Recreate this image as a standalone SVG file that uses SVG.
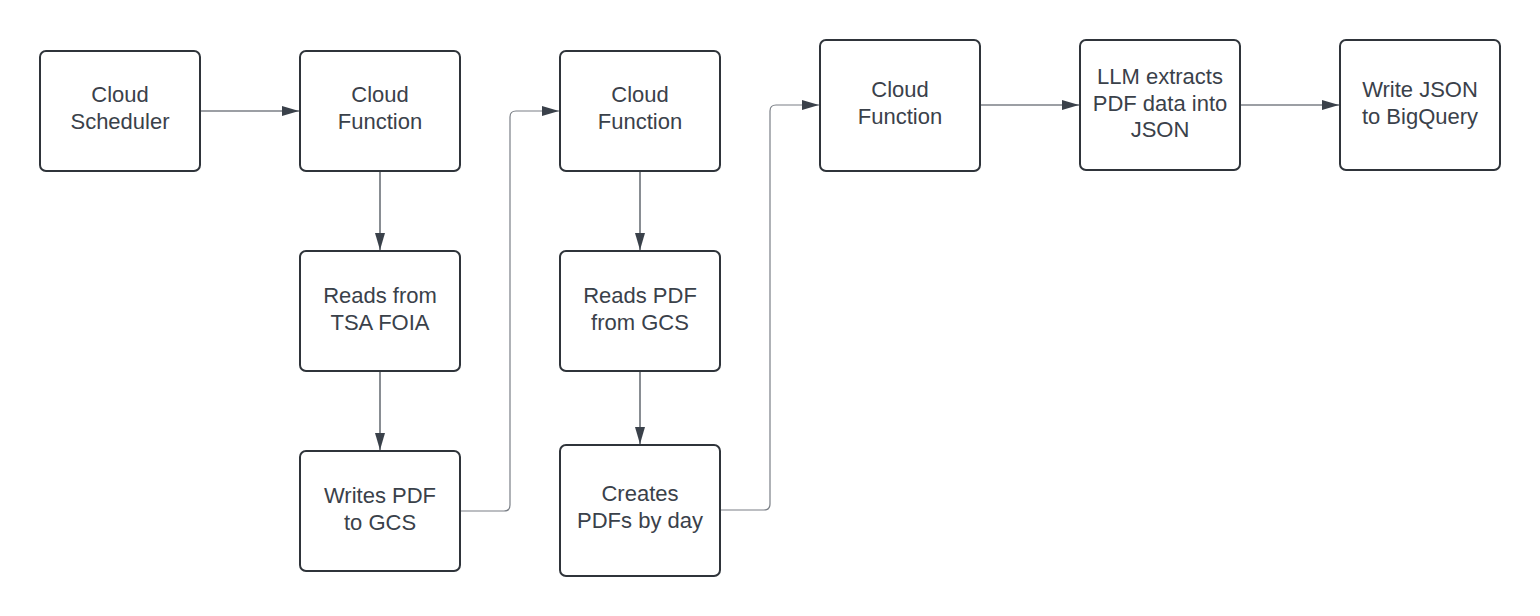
<svg xmlns="http://www.w3.org/2000/svg" width="1540" height="616" viewBox="0 0 1540 616">
<style>
.box{fill:#ffffff;stroke:#2f343a;stroke-width:2}
.t{font-family:"Liberation Sans",Arial,sans-serif;font-size:22px;fill:#3a414a;text-anchor:middle}
.c{fill:none;stroke:#3a414a;stroke-width:1.2}
.e{fill:none;stroke:#7a7f86;stroke-width:1.2}
</style>
<defs>
<marker id="ah" markerWidth="17" markerHeight="10" refX="17" refY="5" orient="auto" markerUnits="userSpaceOnUse">
<path d="M0,0 L17,5 L0,10 Z" fill="#3a414a"/>
</marker>
</defs>
<rect width="1540" height="616" fill="#ffffff"/>
<g id="connectors">
<path class="c" d="M200,111 H299" marker-end="url(#ah)"/>
<path class="c" d="M380,171 V250" marker-end="url(#ah)"/>
<path class="c" d="M380,371 V450" marker-end="url(#ah)"/>
<path class="e" d="M460,511 H504 Q510,511 510,505 V117 Q510,111 516,111 H559" marker-end="url(#ah)"/>
<path class="c" d="M640,171 V250" marker-end="url(#ah)"/>
<path class="c" d="M640,371 V444" marker-end="url(#ah)"/>
<path class="e" d="M720,510 H764 Q770,510 770,504 V111 Q770,105 776,105 H819" marker-end="url(#ah)"/>
<path class="c" d="M980,105 H1079" marker-end="url(#ah)"/>
<path class="c" d="M1240,105 H1339" marker-end="url(#ah)"/>
</g>
<g id="n1"><rect class="box" x="40" y="51" width="160" height="120" rx="6"/><text class="t" x="120" y="102">Cloud</text><text class="t" x="120" y="128.5">Scheduler</text></g>
<g id="n2"><rect class="box" x="300" y="51" width="160" height="120" rx="6"/><text class="t" x="380" y="102">Cloud</text><text class="t" x="380" y="128.5">Function</text></g>
<g id="n3"><rect class="box" x="300" y="251" width="160" height="120" rx="6"/><text class="t" x="380" y="303">Reads from</text><text class="t" x="380" y="329.5">TSA FOIA</text></g>
<g id="n4"><rect class="box" x="300" y="451" width="160" height="120" rx="6"/><text class="t" x="380" y="503">Writes PDF</text><text class="t" x="380" y="529.5">to GCS</text></g>
<g id="n5"><rect class="box" x="560" y="51" width="160" height="120" rx="6"/><text class="t" x="640" y="102">Cloud</text><text class="t" x="640" y="128.5">Function</text></g>
<g id="n6"><rect class="box" x="560" y="251" width="160" height="120" rx="6"/><text class="t" x="640" y="303">Reads PDF</text><text class="t" x="640" y="329.5">from GCS</text></g>
<g id="n7"><rect class="box" x="560" y="445" width="160" height="131" rx="6"/><text class="t" x="640" y="501">Creates</text><text class="t" x="640" y="527.5">PDFs by day</text></g>
<g id="n8"><rect class="box" x="820" y="40" width="160" height="131" rx="6"/><text class="t" x="900" y="97">Cloud</text><text class="t" x="900" y="123.5">Function</text></g>
<g id="n9"><rect class="box" x="1080" y="40" width="160" height="130" rx="6"/><text class="t" x="1160" y="84">LLM extracts</text><text class="t" x="1160" y="110.5">PDF data into</text><text class="t" x="1160" y="137">JSON</text></g>
<g id="n10"><rect class="box" x="1340" y="40" width="160" height="130" rx="6"/><text class="t" x="1420" y="97">Write JSON</text><text class="t" x="1420" y="123.5">to BigQuery</text></g>
</svg>
